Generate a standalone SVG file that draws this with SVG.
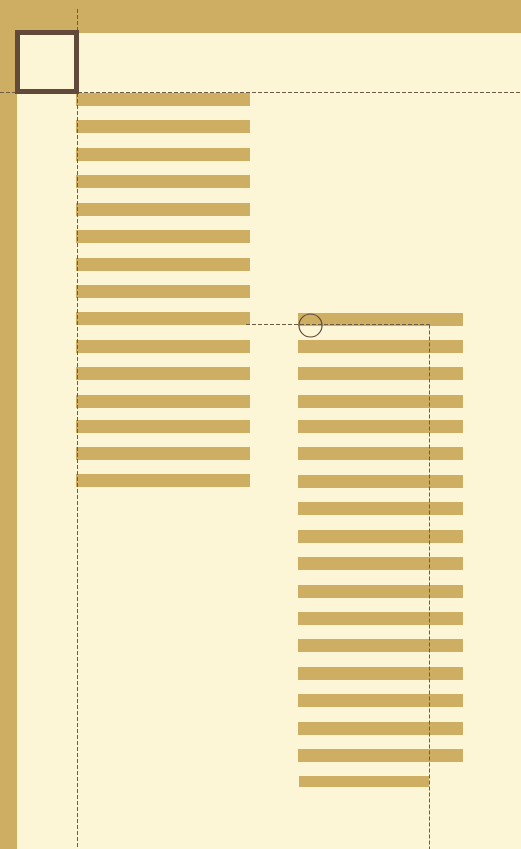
<svg xmlns="http://www.w3.org/2000/svg" width="521" height="849" viewBox="0 0 521 849">
<style>
.band{fill:#cdae62}
.bar{fill:#cdae62}
.dash{stroke:#6e5b46;stroke-width:1;stroke-dasharray:4 2;fill:none}
</style>
<rect width="521" height="849" fill="#fdf6d6"/>
<rect class="band" x="0" y="0" width="521" height="33"/>
<rect class="band" x="0" y="0" width="17" height="849"/>
<g id="left-bars">
<rect class="bar" x="76" y="93" width="174" height="13"/>
<rect class="bar" x="76" y="120" width="174" height="13"/>
<rect class="bar" x="76" y="148" width="174" height="13"/>
<rect class="bar" x="76" y="175" width="174" height="13"/>
<rect class="bar" x="76" y="203" width="174" height="13"/>
<rect class="bar" x="76" y="230" width="174" height="13"/>
<rect class="bar" x="76" y="258" width="174" height="13"/>
<rect class="bar" x="76" y="285" width="174" height="13"/>
<rect class="bar" x="76" y="312" width="174" height="13"/>
<rect class="bar" x="76" y="340" width="174" height="13"/>
<rect class="bar" x="76" y="367" width="174" height="13"/>
<rect class="bar" x="76" y="395" width="174" height="13"/>
<rect class="bar" x="76" y="420" width="174" height="13"/>
<rect class="bar" x="76" y="447" width="174" height="13"/>
<rect class="bar" x="76" y="474" width="174" height="13"/>
</g>
<g id="right-bars">
<rect class="bar" x="298" y="313" width="165" height="13"/>
<rect class="bar" x="298" y="340" width="165" height="13"/>
<rect class="bar" x="298" y="367" width="165" height="13"/>
<rect class="bar" x="298" y="395" width="165" height="13"/>
<rect class="bar" x="298" y="420" width="165" height="13"/>
<rect class="bar" x="298" y="447" width="165" height="13"/>
<rect class="bar" x="298" y="475" width="165" height="13"/>
<rect class="bar" x="298" y="502" width="165" height="13"/>
<rect class="bar" x="298" y="530" width="165" height="13"/>
<rect class="bar" x="298" y="557" width="165" height="13"/>
<rect class="bar" x="298" y="585" width="165" height="13"/>
<rect class="bar" x="298" y="612" width="165" height="13"/>
<rect class="bar" x="298" y="639" width="165" height="13"/>
<rect class="bar" x="298" y="667" width="165" height="13"/>
<rect class="bar" x="298" y="694" width="165" height="13"/>
<rect class="bar" x="298" y="722" width="165" height="13"/>
<rect class="bar" x="298" y="749" width="165" height="13"/>
<rect class="bar" x="299" y="776" width="130" height="11"/>
</g>
<g id="connectors">
<line class="dash" x1="0" y1="92.5" x2="521" y2="92.5"/>
<line class="dash" x1="77.5" y1="9" x2="77.5" y2="849"/>
<line class="dash" x1="246" y1="324.5" x2="429.5" y2="324.5"/>
<line class="dash" x1="429.5" y1="324.5" x2="429.5" y2="849"/>
</g>
<g id="box">
<rect x="17.5" y="32.5" width="59" height="59" fill="#fdf6d6" stroke="#614a3a" stroke-width="5"/>
</g>
<g id="marker">
<circle cx="310.5" cy="325.5" r="11.5" fill="none" stroke="#614a3a" stroke-width="1.2"/>
</g>
</svg>
